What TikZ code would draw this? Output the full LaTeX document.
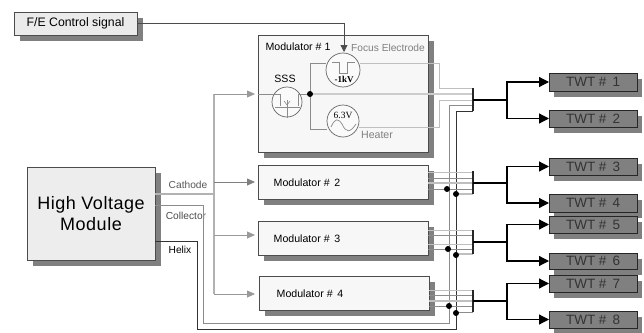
\documentclass[tikz,border=0pt]{standalone}
\usepackage{fontspec}
\setmainfont{Liberation Sans}
\newfontfamily\serifface{Liberation Serif}
\usetikzlibrary{arrows.meta,shadows,calc}
\newcommand{\pxbox}[7]{\node[#6,minimum width={(#4-#2)*1pt},minimum height={(#5-#3)*1pt}] (#1) at ({(#2+#4)/2},{(#3+#5)/2}) {#7};}
\newcommand{\fsz}[1]{\fontsize{#1}{#1}\selectfont}
\tikzset{
  basebox/.style={draw=black!70,line width=0.8pt,inner sep=0pt,outer sep=0pt,align=center},
  shade6/.style={drop shadow={shadow xshift=6pt,shadow yshift=-6pt,fill=black!50,opacity=1}},
  febox/.style={basebox,shade6,fill=black!8,font=\fsz{12.3}},
  hvbox/.style={basebox,shade6,fill=black!7,font=\fsz{18}\addfontfeature{LetterSpace=3}},
  modbox/.style={basebox,shade6,fill=black!3},
  twtbox/.style={basebox,draw=black!85,fill=black!50,text=black!80,font=\fsz{13.5},drop shadow={shadow xshift=5pt,shadow yshift=-6pt,fill=black!50,opacity=1}},
  lab/.style={inner sep=0pt,outer sep=0pt,font=\fsz{10.6}},
  portlab/.style={inner sep=0pt,outer sep=0pt,font=\fsz{10.2}},
  catline/.style={draw=black!30,line width=1.3pt},
  catarrow/.style={draw=black!50,line width=0.8pt,-{Triangle[length=8pt,width=7pt]}},
  sigl/.style={draw=black!25,line width=0.9pt},
  sigm/.style={draw=black!45,line width=0.8pt},
  bus/.style={draw=black!85,line width=1.1pt},
  outline/.style={draw=black,line width=1.2pt},
  twtarrow/.style={draw=black,line width=1.2pt,-{Triangle[length=10pt,width=10pt]}},
  dotn/.style={circle,fill=black,inner sep=0pt,minimum size=6pt},
  source/.style={circle,draw=black!60,line width=0.7pt,fill=black!2,inner sep=0pt},
}
\begin{document}
\begin{tikzpicture}[x=1pt,y=-1pt]
\useasboundingbox (0,0) rectangle (644,332);
\fill[white] (0,0) rectangle (644,332);

\pxbox{fe}{14}{12}{137}{35}{febox}{F/E Control signal}
\pxbox{hv}{27}{167}{155}{260}{hvbox}{High Voltage\\[3pt]Module}
\pxbox{m1}{258}{35}{428}{152}{modbox}{}
\pxbox{m2}{258}{165}{428}{199}{modbox}{}
\pxbox{m3}{258}{221}{428}{255}{modbox}{}
\pxbox{m4}{259}{276}{429}{310}{modbox}{}

\node[lab] (m1t) at (298,47) {Modulator \# 1};
\node[lab] (m2t) at (307,183) {Modulator \#\, 2};
\node[lab] (m3t) at (307,239) {Modulator \#\, 3};
\node[lab] (m4t) at (310,294) {Modulator \#\, 4};

\pxbox{t1}{549}{73}{637}{91}{twtbox}{TWT \#\, 1}
\pxbox{t2}{549}{110}{637}{127}{twtbox}{TWT \#\, 2}
\pxbox{t3}{549}{158}{637}{175}{twtbox}{TWT \#\, 3}
\pxbox{t4}{549}{194}{637}{212}{twtbox}{TWT \#\, 4}
\pxbox{t5}{549}{216}{637}{233}{twtbox}{TWT \#\, 5}
\pxbox{t6}{549}{253}{637}{269}{twtbox}{TWT \#\, 6}
\pxbox{t7}{549}{275}{637}{292}{twtbox}{TWT \#\, 7}
\pxbox{t8}{549}{311}{637}{328}{twtbox}{TWT \#\, 8}

% Control signal
\coordinate (feend) at (344,52);
\draw[draw=black!70,line width=0.8pt,-{Triangle[length=7pt,width=7pt]}] (fe.east) -| (feend);

% Cathode feed
\coordinate (cs) at (155,194);
\coordinate (cj) at (214,194);
\coordinate (ct) at (214,94);
\coordinate (cb) at (214,294);
\coordinate (c1) at (255,94);
\coordinate (c2) at (255,182);
\coordinate (c3) at (255,235);
\coordinate (c4) at (255,294);
\draw[catline] (cs) -- (cj);
\draw[catline] (ct) -- (cb);
\draw[catarrow,draw=black!40] (ct) -- (c1);
\draw[catarrow] (214,182) -- (c2);
\draw[catarrow,draw=black!40] (214,235) -- (c3);
\draw[catarrow,draw=black!40] (cb) -- (c4);

% Modulator 1 interior
\coordinate (mj) at (310,94);
\node[source,minimum size=30pt] (sss) at (287,102) {};
\node[source,minimum size=34pt] (kv) at (343,70) {};
\node[source,minimum size=32pt] (ht) at (343,121) {};
\draw[sigm] (m1.west |- mj) -- (280,94) -- (280,106);
\draw[sigm] (298,106) -- (298,94) -- (mj);
\draw[sigm] (275,107) -- (300,107);
\draw[sigm,line width=0.6pt] (287,100) -- (287,118);
\draw[sigm,line width=0.6pt] (284,101) -- (287,105) -- (290,101);
\draw[sigm] (kv.west |- 0,63) -| (mj);
\draw[sigm] (mj) |- (ht.west |- 0,129);
\draw[sigm,line width=0.7pt] (332,62) -- (339,62) -- (339,73) -- (347,73) -- (347,62) -- (355,62);
\draw[sigm,line width=0.7pt] (331,127) .. controls (335,118) and (338,118) .. (342,124) .. controls (346,133) and (350,133) .. (356,124);
\node[lab,font=\serifface\bfseries\fsz{9}] (kvt) at (344,79) {-1kV};
\node[lab,font=\serifface\fsz{9.5}] (htt) at (343,115) {6.3V};
\node[lab] (ssst) at (285,79) {SSS};
\node[lab,text=black!50,font=\fsz{10.2}] (foc) at (388,48) {Focus Electrode};
\node[lab,text=black!50] (heat) at (377,135) {Heater};

% Module output labels and supply wires
\node[portlab,text=black!65] (cat) at (188,185) {Cathode};
\node[portlab,text=black!70] (col) at (186,216) {Collector};
\node[portlab] (hel) at (180,250) {Helix};

\coordinate (b1) at (473,88);
\coordinate (b2) at (473,111);
\draw[draw=black!20,line width=1.4pt] (mj) -- (473,94);
\draw[sigl] (kv.east |- 0,63) -- (439,63) -- (439,88) -- (b1);
\draw[sigl] (ht.east |- 0,127) -- (439,127) -- (439,100) -- (473,100);
\draw[sigm] (hv.east |- 0,205) -- (203,205) -- (203,323) -- (449,323) -- (449,105) -- (473,105);
\draw[draw=black!80,line width=0.8pt] (hv.east |- 0,241) -- (197,241) -- (197,329) -- (456,329) -- (456,111) -- (b2);
\node[dotn] (mjd) at (mj) {};

% Modulator 2-4 wires
\draw[sigl] (m2.east |- 0,172) -- (473,172);
\draw[sigm] (m2.east |- 0,178) -- (473,178);
\draw[sigl,line width=1.2pt] (m2.east |- 0,183) -- (473,183);
\draw[sigm] (m2.east |- 0,189) -- (473,189);
\draw[sigl,line width=1.2pt] (456,194) -- (473,194);
\draw[sigl] (m3.east |- 0,230) -- (473,230);
\draw[sigm] (m3.east |- 0,235) -- (473,235);
\draw[sigl] (m3.east |- 0,244) -- (473,244);
\draw[sigm] (m3.east |- 0,249) -- (473,249);
\draw[sigl,line width=1.2pt] (456,254) -- (473,254);
\draw[sigl] (m4.east |- 0,290) -- (473,290);
\draw[sigm] (m4.east |- 0,295) -- (473,295);
\draw[sigl,line width=1.4pt] (m4.east |- 0,301) -- (473,301);
\draw[sigm] (m4.east |- 0,306) -- (473,306);
\draw[sigm] (456,312) -- (473,312);
\node[dotn] (d2a) at (447,189) {};
\node[dotn] (d2b) at (456,194) {};
\node[dotn] (d3a) at (448,249) {};
\node[dotn] (d3b) at (456,255) {};
\node[dotn] (d4a) at (449,306) {};
\node[dotn] (d4b) at (456,313) {};

% Bus bars and TWT outputs
\draw[bus] (473,88) -- (473,111);
\draw[bus] (473,171) -- (473,194);
\draw[bus] (473,230) -- (473,254);
\draw[bus] (473,290) -- (473,312);
\coordinate (s1) at (507,100);
\coordinate (s2) at (507,183);
\coordinate (s3) at (507,242);
\coordinate (s4) at (507,301);
\draw[outline] (473,100) -- (s1);
\draw[outline] (473,183) -- (s2);
\draw[outline] (473,242) -- (s3);
\draw[outline] (473,301) -- (s4);
\draw[twtarrow] (s1) |- (t1.west);
\draw[twtarrow] (s1) |- (t2.west);
\draw[twtarrow] (s2) |- (t3.west);
\draw[twtarrow] (s2) |- (t4.west);
\draw[twtarrow] (s3) |- (t5.west);
\draw[twtarrow] (s3) |- (t6.west);
\draw[twtarrow] (s4) |- (t7.west);
\draw[twtarrow] (s4) |- (t8.west);
\end{tikzpicture}
\end{document}
